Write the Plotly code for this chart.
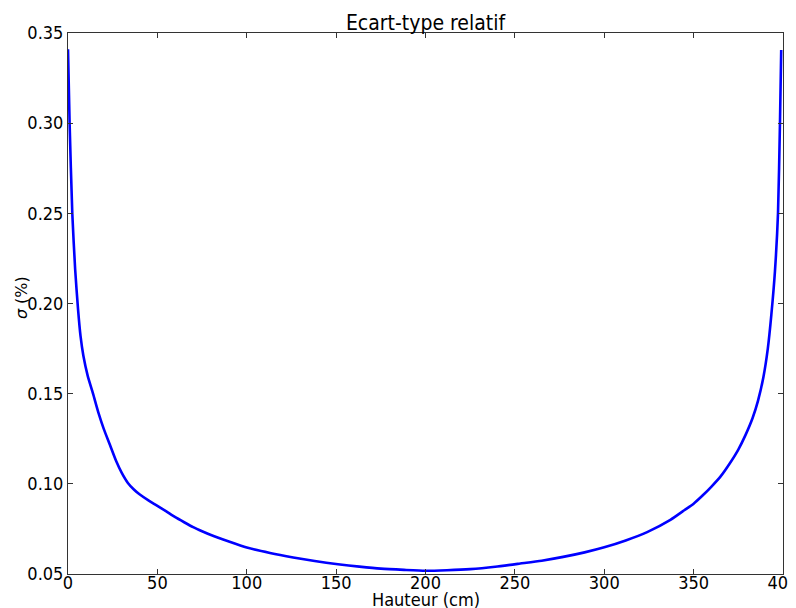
import plotly.graph_objects as go

hauteur = [0, 0.9, 2.4, 4, 5.6, 7, 8.6, 11, 14, 17, 20, 23.5, 27, 30, 33.5, 37, 40,
           45, 50, 55, 60, 65, 70, 75, 80, 90, 100, 113, 126, 138, 151, 163, 175,
           188, 200, 212, 225, 239, 253, 265, 277, 289, 300, 312, 324, 337, 345,
           350, 355, 360, 365, 370, 375, 379, 383, 386, 389, 391.5, 393.5, 395.5,
           397.2, 398.3, 399]
sigma = [0.341, 0.300, 0.250, 0.219, 0.197, 0.182, 0.171, 0.160, 0.150, 0.1395,
         0.1305, 0.1215, 0.1125, 0.1062, 0.1005, 0.0967, 0.0942,
         0.0908, 0.0878, 0.0847, 0.0815, 0.0787, 0.0760, 0.0737, 0.0716,
         0.0680, 0.0647, 0.0617, 0.0592, 0.0572, 0.0554, 0.0541, 0.0530,
         0.0523, 0.0518, 0.0521, 0.0527, 0.0540, 0.0558, 0.0574, 0.0595,
         0.0620, 0.0648, 0.0686, 0.0732, 0.0800, 0.0855,
         0.0890, 0.0935, 0.0985, 0.1040, 0.1110, 0.1190, 0.1270, 0.1365,
         0.1460, 0.1590, 0.1750, 0.1940, 0.2180, 0.2500, 0.3000, 0.3406]

x_ticks = [0, 50, 100, 150, 200, 250, 300, 350, 400]
y_ticks = [0.05, 0.10, 0.15, 0.20, 0.25, 0.30, 0.35]

FONT = "DejaVu Sans Condensed, Liberation Sans Narrow, DejaVu Sans, sans-serif"

fig = go.Figure()
fig.add_trace(go.Scatter(x=hauteur, y=sigma, mode="lines",
                         line=dict(color="#0000ff", width=2.6, shape="spline",
                                   smoothing=0.6),
                         showlegend=False))

axis_common = dict(showline=True, linecolor="#333333", linewidth=1, mirror="ticks",
                   ticks="inside", ticklen=5, tickcolor="#333333", showgrid=False,
                   zeroline=False, tickfont=dict(size=18, color="black", family=FONT))

fig.update_layout(
    width=788, height=600,
    margin=dict(l=60, r=13, t=25, b=34, autoexpand=False),
    paper_bgcolor="white", plot_bgcolor="white",
    font=dict(family=FONT, color="black"),
    title=dict(text="Ecart-type relatif", xref="paper", x=0.5, xanchor="center",
               yref="container", y=0.975, yanchor="middle",
               font=dict(size=21, family=FONT, color="black")),
    xaxis=dict(range=[0, 400], tickvals=x_ticks,
               ticktext=[str(v) for v in x_ticks], ticklabelstandoff=-8,
               ticklabeloverflow="allow", **axis_common),
    yaxis=dict(range=[0.05, 0.35], tickvals=y_ticks,
               ticktext=[f"{v:.2f}" for v in y_ticks],
               ticklabeloverflow="allow", **axis_common),
    annotations=[
        dict(text="Hauteur (cm)", xref="paper", yref="paper", x=0.5, y=-0.048,
             xanchor="center", yanchor="middle", showarrow=False,
             font=dict(size=18, family=FONT, color="black")),
        dict(text="<i>σ</i> (%)", xref="paper", yref="paper", x=-0.0657, y=0.51,
             xanchor="center", yanchor="middle", showarrow=False, textangle=-90,
             font=dict(size=16, family="DejaVu Sans", color="black")),
    ],
)

fig.write_html("out.html")
